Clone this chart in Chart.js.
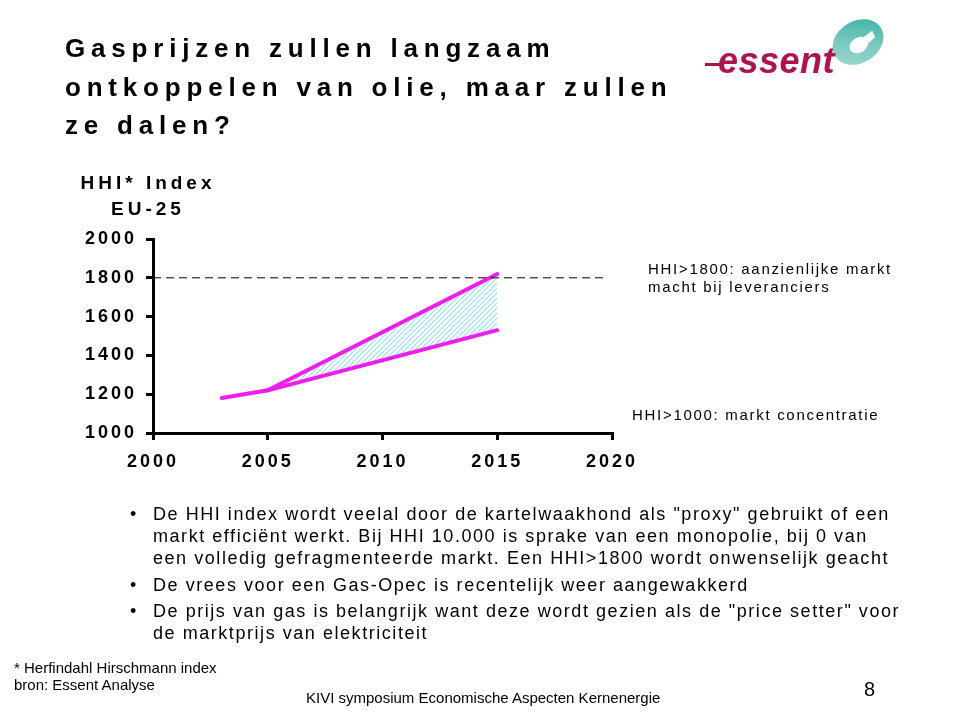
<!DOCTYPE html>
<html>
<head>
<meta charset="utf-8">
<script src="https://cdn.jsdelivr.net/npm/chart.js@4/dist/chart.umd.min.js"></script>
<style>
  html,body{margin:0;padding:0;background:#fff;}
  body{width:960px;height:722px;position:relative;overflow:hidden;font-family:"Liberation Sans",Arial,sans-serif;color:#000;}
  #c{position:absolute;left:0;top:0;}
  .abs{position:absolute;white-space:nowrap;}
  #title{left:65px;top:29px;font-size:26px;font-weight:bold;letter-spacing:5.8px;line-height:38.5px;}
  #ytitle{left:58px;top:170px;width:180px;text-align:center;font-size:19px;font-weight:bold;letter-spacing:4px;line-height:26px;}
  .note{font-size:15px;letter-spacing:1.7px;line-height:18px;}
  #bullets{left:130px;top:503px;font-size:18px;letter-spacing:1.55px;line-height:22px;}
  #bullets .b{position:relative;padding-left:23px;margin-bottom:4.5px;}
  #bullets .b:before{content:"\2022";position:absolute;left:0;top:0;letter-spacing:0;}
  .foot{font-size:15px;line-height:17px;}
</style>
</head>
<body>
<canvas id="c" width="960" height="722"></canvas>

<div id="title" class="abs">Gasprijzen zullen langzaam<br>ontkoppelen van olie, maar zullen<br>ze dalen?</div>

<svg class="abs" style="left:690px;top:10px" width="210" height="80" viewBox="0 0 210 80">
  <defs>
    <linearGradient id="tg" x1="0" y1="1" x2="1" y2="0">
      <stop offset="0" stop-color="#a3dad2"/>
      <stop offset="0.45" stop-color="#7ccbbf"/>
      <stop offset="1" stop-color="#2fae9f"/>
    </linearGradient>
  </defs>
  <g transform="rotate(-32 168 32)">
    <ellipse cx="168" cy="32" rx="27" ry="21" fill="url(#tg)"/>
    <ellipse cx="167" cy="35" rx="10" ry="7.5" fill="#ffffff"/>
    <path d="M174,31 L186,30 L185,37 L174,39 Z" fill="#ffffff"/>
  </g>
  <rect x="15" y="53" width="16" height="3" fill="#b0134a"/>
  <text x="28" y="63" font-family="Liberation Sans, Arial, sans-serif" font-size="36" font-weight="bold" font-style="italic" fill="#b0134a" letter-spacing="0.5">essent</text>
</svg>

<div id="ytitle" class="abs">HHI* Index<br>EU-25</div>

<div class="abs note" style="left:648px;top:260px;">HHI&gt;1800: aanzienlijke markt<br>macht bij leveranciers</div>
<div class="abs note" style="left:632px;top:406px;">HHI&gt;1000: markt concentratie</div>

<div id="bullets" class="abs">
  <div class="b">De HHI index wordt veelal door de kartelwaakhond als "proxy" gebruikt of een<br>markt efficiënt werkt. Bij HHI 10.000 is sprake van een monopolie, bij 0 van<br>een volledig gefragmenteerde markt. Een HHI&gt;1800 wordt onwenselijk geacht</div>
  <div class="b">De vrees voor een Gas-Opec is recentelijk weer aangewakkerd</div>
  <div class="b">De prijs van gas is belangrijk want deze wordt gezien als de "price setter" voor<br>de marktprijs van elektriciteit</div>
</div>

<div class="abs foot" style="left:14px;top:659px;">* Herfindahl Hirschmann index<br>bron: Essent Analyse</div>
<div class="abs foot" style="left:306px;top:689px;">KIVI symposium Economische Aspecten Kernenergie</div>
<div class="abs" style="left:864px;top:678px;font-size:20px;">8</div>

<script>
// ---- data ----
const xTickLabels = [2000, 2005, 2010, 2015, 2020];
const yTickLabels = [1000, 1200, 1400, 1600, 1800, 2000];

const historyYears  = [2003, 2005];
const historyValues = [1180, 1220];

const scenarioYears = [2005, 2015];
const highValues    = [1220, 1820];
const lowValues     = [1220, 1530];

const thresholdYears  = [2000, 2019.7];
const thresholdValues = [1800, 1800];

// ---- helpers ----
function pts(xs, ys){ return xs.map((x,i)=>({x:x, y:ys[i]})); }

function hatchPattern(){
  const s = 5;
  const cv = document.createElement('canvas');
  cv.width = s; cv.height = s;
  const g = cv.getContext('2d');
  g.strokeStyle = '#8fe2ee';
  g.lineWidth = 1.1;
  g.beginPath();
  g.moveTo(0, s); g.lineTo(s, 0);
  g.moveTo(-1, 1); g.lineTo(1, -1);
  g.moveTo(s-1, s+1); g.lineTo(s+1, s-1);
  g.stroke();
  return g.createPattern(cv, 'repeat');
}

const magenta = '#f01cf0';
const ctx = document.getElementById('c').getContext('2d');

const letterSpacingPlugin = {
  id: 'ls',
  beforeDraw(c){ c.ctx.letterSpacing = '3px'; },
  afterDraw(c){ c.ctx.letterSpacing = '0px'; }
};

new Chart(ctx, {
  type: 'line',
  data: {
    datasets: [
      {
        label: 'threshold',
        data: pts(thresholdYears, thresholdValues),
        borderColor: '#000',
        borderWidth: 1,
        borderDash: [8, 5],
        pointRadius: 0,
        fill: false
      },
      {
        label: 'history',
        data: pts(historyYears, historyValues),
        borderColor: magenta,
        borderWidth: 4,
        borderCapStyle: 'round',
        pointRadius: 0,
        fill: false
      },
      {
        label: 'low',
        data: pts(scenarioYears, lowValues),
        borderColor: magenta,
        borderWidth: 4,
        borderCapStyle: 'round',
        pointRadius: 0,
        fill: false
      },
      {
        label: 'high',
        data: pts(scenarioYears, highValues),
        borderColor: magenta,
        borderWidth: 4,
        borderCapStyle: 'round',
        pointRadius: 0,
        backgroundColor: hatchPattern(),
        fill: { target: 2 }
      }
    ]
  },
  options: {
    responsive: false,
    animation: false,
    devicePixelRatio: 1,
    layout: { padding: { left: 0, top: 239, right: 348, bottom: 229 } },
    plugins: { legend: { display: false }, tooltip: { enabled: false } },
    elements: { line: { tension: 0, borderJoinStyle: 'round' } },
    scales: {
      x: {
        type: 'linear',
        min: xTickLabels[0],
        max: xTickLabels[xTickLabels.length - 1],
        afterFit: s => { s.height = 60; },
        afterBuildTicks: s => { s.ticks = xTickLabels.map(v => ({ value: v })); },
        ticks: {
          color: '#000',
          font: { family: 'Liberation Sans, Arial, sans-serif', size: 18, weight: 'bold' },
          padding: 11,
          maxRotation: 0,
          autoSkip: false,
          callback: v => String(v)
        },
        grid: { drawOnChartArea: false, drawTicks: true, tickLength: 7, color: '#000', lineWidth: 3 },
        border: { color: '#000', width: 3 }
      },
      y: {
        type: 'linear',
        min: yTickLabels[0],
        max: yTickLabels[yTickLabels.length - 1],
        afterFit: s => { s.width = 153; },
        afterBuildTicks: s => { s.ticks = yTickLabels.map(v => ({ value: v })); },
        ticks: {
          color: '#000',
          font: { family: 'Liberation Sans, Arial, sans-serif', size: 18, weight: 'bold' },
          padding: 9,
          autoSkip: false,
          callback: v => String(v)
        },
        grid: { drawOnChartArea: false, drawTicks: true, tickLength: 7, color: '#000', lineWidth: 3 },
        border: { color: '#000', width: 3 }
      }
    }
  },
  plugins: [letterSpacingPlugin]
});
</script>
</body>
</html>
